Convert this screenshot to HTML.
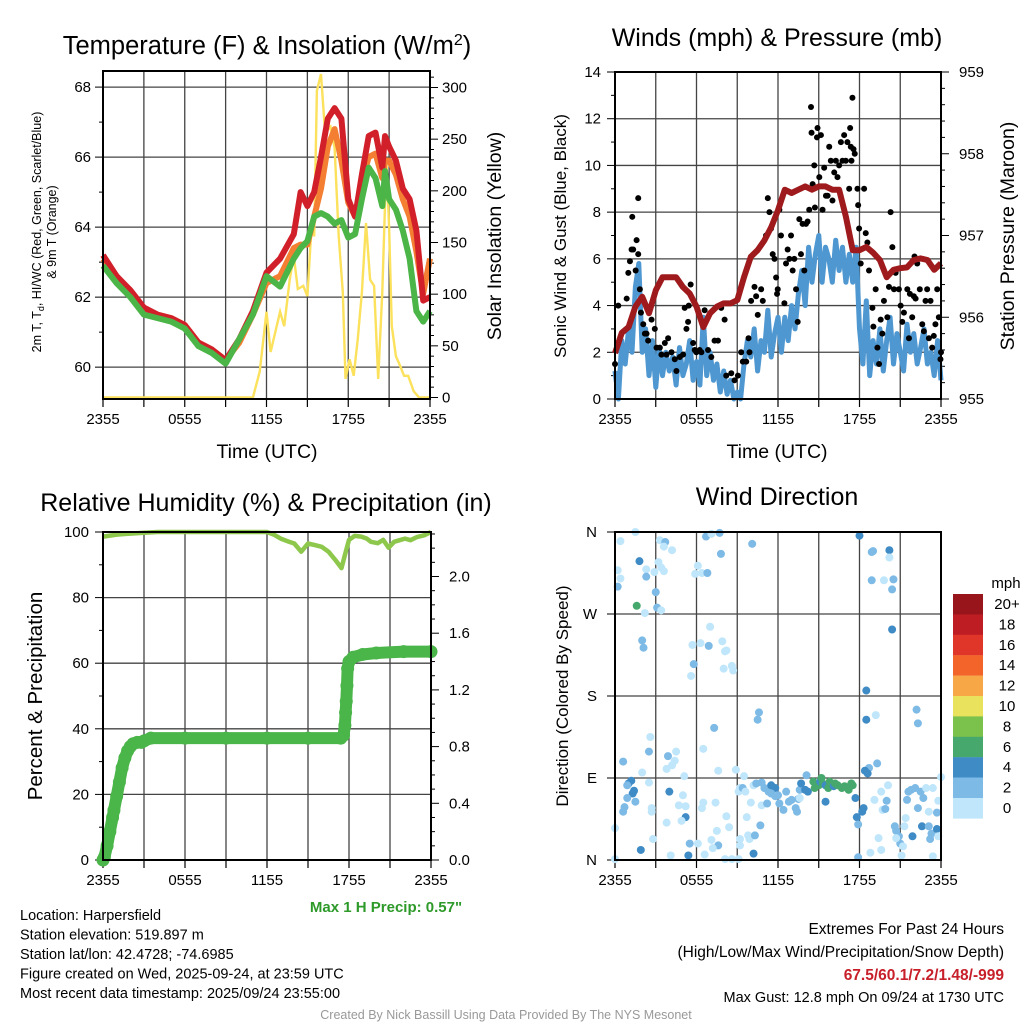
<!DOCTYPE html>
<html><head><meta charset="utf-8">
<style>
html,body{margin:0;padding:0;background:#fff;}
svg{display:block;font-family:"Liberation Sans",Arial,sans-serif;}
</style></head>
<body>
<svg id="c" width="1024" height="1024" viewBox="0 0 1024 1024" xmlns="http://www.w3.org/2000/svg"></svg>
<script>
// ---------- DATA ----------
const xTickLabels = ["2355","0555","1155","1755","2355"];
const tempT   = [0,1,2,3,4,5,6,7,8,9,10,11,12,13,14,14.5,15,15.5,16,16.5,17,17.5,18,18.5,19,19.5,20,20.5,20.7,21,21.5,22,22.5,23,23.5,24];
const tempRed = [63.2,62.6,62.2,61.7,61.5,61.4,61.2,60.7,60.5,60.2,60.8,61.6,62.7,63.1,63.8,65.0,64.6,65.0,66.0,67.1,67.4,67.1,64.8,64.3,65.5,66.6,66.7,65.7,66.6,66.3,65.9,65.1,64.8,63.9,61.9,62.0];
const tempOrg = [63.1,62.6,62.1,61.6,61.5,61.4,61.2,60.7,60.5,60.2,60.7,61.5,62.4,62.6,63.4,63.5,63.5,64.3,65.1,66.3,66.8,65.9,64.7,64.3,65.3,66.0,66.1,65.4,65.9,65.9,65.5,64.8,64.3,63.3,62.1,63.1];
const tempGrn = [62.9,62.4,62.0,61.5,61.4,61.3,61.1,60.6,60.4,60.1,60.8,61.5,62.6,62.3,63.1,63.4,63.6,64.3,64.4,64.3,64.1,64.2,63.7,63.8,64.8,65.7,65.4,64.6,65.6,64.8,64.5,63.9,63.1,61.6,61.3,61.6];
const solarT = [0,11,11.5,12,12.3,13,13.3,13.7,14,14.3,14.7,15,15.3,15.5,15.7,16,16.3,16.7,17,17.3,17.6,17.8,18.1,18.4,18.7,19,19.3,19.6,19.9,20.2,20.5,20.8,21,21.2,21.5,21.8,22.1,22.4,22.8,23.2,24];
const solarV = [0,0,25,83,44,83,69,114,137,105,108,98,165,156,297,313,256,262,242,156,102,18,37,21,57,102,169,114,108,18,102,230,165,69,40,31,21,21,6,0,0];
const windV = [1.2,0,2.5,1.5,3.0, 2.0,4.8,5.8,2.0, 3.0,1.0,2.5,0.5, 2.2,1.0,2.0,1.2, 1.8,0.6,2.2,1.0, 1.5,2.5,0.8,1.6, 0.6,3.5,1.0,2.0, 0.8,1.5,0.3,1.2, 0.2,0.8,0,0.3, 0,1.5,2.5,1.8, 3.0,1.2,2.5,2.0, 3.8,1.8,2.8,3.5, 2.0,3.5,2.5,4.0, 3.0,4.5,5.5,4.0, 6.5,5.0,6.2,7.0, 5.0,6.5,6.0,5.0, 6.8,5.5,6.5,5.0, 6.2,5.0,6.5,3.0, 1.5,4.2,1.0,2.5, 1.5,3.0,1.2,2.5, 3.5,1.5,2.8,2.0, 1.2,3.2,2.0,2.8, 1.5,2.2,3.0,1.5, 2.0,1.0,2.5,0.8];
const windStepHours = 0.25;
const gustT = [0,0.24,0.86,0.98,1.10,1.22,1.34,1.27,1.59,1.71,1.52,1.71,1.83,2.08,2.20,2.32,1.91,2.44,2.69,2.93,3.06,3.30,3.42,3.67,3.79,3.91,4.16,4.40,4.52,4.77,5.01,5.13,5.38,5.43,5.57,5.26,5.75,5.87,5.99,6.23,6.36,6.60,6.85,7.09,7.33,7.58,7.82,8.07,8.19,8.56,8.80,9.05,9.29,9.41,9.66,9.83,9.90,10.02,10.27,10.39,10.51,10.76,10.88,11.12,11.25,11.37,11.49,11.61,11.74,11.86,11.98,11.93,12.10,12.22,12.47,12.59,12.71,12.84,12.96,13.08,13.20,13.33,13.45,13.57,13.69,13.81,13.94,14.06,14.18,14.30,14.43,14.47,14.55,14.67,14.72,14.87,14.91,15.04,15.16,15.28,15.40,15.53,15.65,15.77,15.89,16.01,16.14,16.26,16.38,16.50,16.63,16.75,16.87,16.99,17.11,17.24,17.31,17.36,17.41,17.48,17.56,17.65,17.85,17.90,17.97,18.09,18.34,18.46,18.58,18.70,18.95,19.02,19.19,19.32,19.44,19.56,19.68,19.80,20.05,20.17,20.29,20.42,20.54,20.66,20.90,21.03,21.15,21.27,21.52,21.64,21.71,21.88,22.00,22.05,22.13,22.25,22.44,22.62,22.74,22.86,22.98,23.11,23.23,23.35,23.47,23.59,23.72,23.84,23.96,24.0];
const gustV = [1.5,4.0,4.3,5.4,5.9,6.4,6.4,7.8,6.8,8.6,5.5,6.2,4.7,3.2,2.8,2.8,3.7,2.5,3.4,3.0,2.2,2.2,1.9,2.4,1.9,2.6,2.0,1.7,1.2,1.8,1.9,3.9,3.3,4.0,4.9,3.0,2.4,2.1,2.0,2.1,2.0,3.8,2.1,1.8,2.5,2.5,3.9,3.4,1.0,1.1,0.8,1.0,2.0,1.6,1.6,2.6,2.0,4.2,4.8,4.4,3.6,4.7,4.2,7.0,8.6,8.0,7.3,6.2,6.0,5.2,4.7,4.5,8.1,7.0,4.1,5.8,6.4,6.0,7.0,5.5,6.0,4.7,3.3,7.7,6.2,7.5,5.5,7.5,7.6,8.1,12.5,11.4,9.2,10.0,8.2,11.2,11.6,9.5,11.3,8.1,9.9,8.7,8.7,10.8,10.2,8.5,9.7,10.2,9.5,10.0,11.0,10.2,11.3,10.2,11.0,9.0,11.6,10.8,10.2,12.9,10.7,10.5,9.0,8.3,7.3,5.8,9.0,7.1,6.7,5.5,3.9,3.1,4.7,2.2,1.5,3.4,2.8,4.2,3.5,4.8,8.0,6.5,4.7,5.4,4.7,4.0,3.3,3.7,4.7,2.6,4.5,3.5,4.4,6.1,4.3,5.8,4.7,3.2,2.9,4.2,4.7,2.6,4.2,2.2,2.7,3.2,4.7,3.5,1.7,2.0];
const presT = [0,0.5,1,1.5,2,2.5,3,3.5,4,4.5,5,5.5,6,6.5,7,7.5,8,8.5,9,9.5,10,10.5,11,11.5,12,12.5,13,13.5,14,14.5,15,15.5,16,16.5,17,17.5,18,18.5,19,19.5,20,20.5,21,21.5,22,22.5,23,23.5,24];
const presV = [955.56,955.81,955.88,956.13,956.25,956.05,956.33,956.49,956.49,956.49,956.37,956.29,956.13,955.88,956.05,956.13,956.17,956.17,956.21,956.49,956.74,956.82,956.94,957.10,957.31,957.56,957.52,957.56,957.60,957.56,957.60,957.60,957.56,957.56,957.23,956.82,956.82,956.86,956.79,956.70,956.49,956.58,956.60,956.61,956.70,956.72,956.70,956.58,956.66];
const rhT = [0,1,2,3,4,12,12.5,13,13.5,14,14.5,15,15.5,16,16.5,17,17.45,17.7,18,18.4,18.9,19.3,19.6,20.1,20.5,20.9,21.3,21.7,22.1,22.5,23,23.5,24];
const rhV = [98.6,99.2,99.5,99.8,100,100,99.2,98.0,97.2,96.5,94.0,96.5,96.0,95.5,94.0,91.5,89.0,93.0,97.6,98.8,98.6,98.0,97.0,96.6,97.6,95.2,97.0,97.5,98.0,97.5,98.5,99.0,100];
const precT = [0,0.1,0.3,0.5,0.7,0.8,1.0,1.2,1.4,1.6,1.8,2.0,2.2,2.5,2.8,3.0,3.5,6,9,12,15,17.4,17.6,17.7,17.75,17.8,17.85,17.9,18.0,18.3,19,20,22,24];
const precV = [0,0.02,0.1,0.2,0.3,0.35,0.45,0.55,0.65,0.72,0.77,0.80,0.82,0.83,0.83,0.84,0.86,0.86,0.86,0.86,0.86,0.86,0.88,0.95,1.04,1.12,1.23,1.35,1.40,1.43,1.45,1.46,1.47,1.47];
const dirObs = [[1.5,360,1],[0.4,350,1],[3.3,351,1],[3.7,349,3],[3.6,344,1],[4.2,340,1],[6.7,355,3],[7.1,358,1],[7.7,359,3],[7.8,336,3],[10.1,347,3],[18.0,356,5],[18.9,338,3],[19.0,339,3],[20.2,340,5],[20.2,332,1],[1.8,328,5],[3.2,327,1],[3.4,321,1],[3.6,317,1],[2.9,316,1],[2.3,319,1],[2.3,311,3],[0.2,318,1],[0.4,309,1],[0.2,300,3],[6.1,323,1],[5.9,314,1],[6.4,315,1],[6.8,315,3],[18.9,307,3],[19.8,307,1],[20.5,308,3],[20.4,297,3],[3.0,294,3],[3.1,277,3],[3.4,274,1],[1.6,279,7],[2.2,271,1],[20.4,253,5],[7.0,256,1],[2.0,241,3],[2.1,233,3],[5.7,236,1],[6.3,238,1],[6.9,235,3],[7.9,240,1],[8.1,229,1],[8.2,230,1],[5.8,215,3],[5.6,202,1],[8.0,210,1],[8.6,213,1],[8.7,208,1],[18.5,186,5],[10.6,162,3],[10.5,154,3],[22.2,165,3],[22.3,150,3],[19.2,159,1],[18.5,154,5],[7.3,145,3],[2.6,135,1],[2.5,119,3],[6.5,122,1],[4.5,119,1],[3.9,114,3],[4.4,109,1],[4.2,104,1],[3.8,100,1],[0.6,108,3],[2.0,96,1],[2.5,85,1],[5.1,92,1],[7.6,98,1],[8.9,99,1],[9.5,92,1],[19.3,106,3],[18.7,101,3],[18.4,98,5],[18.6,95,5],[24.0,91,1],[1.2,87,5],[1.0,84,5],[0.9,82,3],[1.4,76,5],[1.3,73,5],[0.9,68,3],[1.5,64,3],[0.7,58,3],[0.6,53,3],[4.0,75,5],[5.0,71,1],[4.7,60,1],[5.2,59,1],[6.5,63,1],[6.4,57,1],[7.4,63,1],[2.7,57,1],[2.7,53,1],[5.2,47,5],[4.9,43,1],[3.8,41,1],[0.0,35,1],[2.8,23,1],[1.9,11,5],[4.1,5,1],[5.5,18,3],[5.4,5,5],[6.1,18,1],[6.6,6,1],[7.1,22,1],[7.5,32,1],[7.6,16,3],[7.2,13,1],[8.2,48,1],[8.4,36,1],[8.1,1,1],[8.6,1,1],[9.1,1,1],[9.2,23,1],[9.2,16,1],[9.8,27,1],[9.9,23,1],[10.2,7,5],[10.3,27,3],[9.7,47,1],[10.7,38,3],[9.1,75,1],[9.2,79,1],[9.4,79,3],[9.6,75,1],[10.0,63,1],[10.2,82,1],[10.4,84,3],[10.8,85,3],[11.0,79,3],[11.3,75,3],[11.5,82,5],[11.8,79,5],[10.8,60,1],[11.2,62,3],[11.5,73,3],[11.8,70,3],[12.0,71,3],[12.1,62,3],[12.4,55,3],[12.6,75,3],[12.8,64,3],[13.0,66,3],[13.3,57,3],[13.4,53,3],[13.5,67,3],[13.6,68,1],[13.6,77,3],[13.7,84,5],[14.0,77,5],[14.1,93,3],[14.2,75,5],[14.6,86,7],[14.7,79,7],[15.0,82,7],[15.1,86,5],[15.2,90,7],[15.3,84,7],[15.5,82,5],[15.5,64,5],[15.7,79,7],[15.8,86,7],[16.1,81,5],[16.2,84,7],[16.4,82,7],[16.7,79,7],[16.9,81,7],[17.2,77,7],[17.4,84,7],[17.5,82,7],[17.7,68,5],[17.8,47,5],[18.3,57,5],[18.2,53,5],[17.9,39,3],[17.9,3,3],[18.8,8,1],[19.1,66,1],[19.6,75,1],[19.7,55,1],[20.0,65,3],[19.9,56,3],[20.1,82,1],[20.6,37,3],[20.7,32,3],[20.9,26,3],[21.0,18,3],[20.7,24,1],[19.4,24,1],[19.6,11,1],[21.1,5,1],[21.4,46,1],[21.3,37,1],[21.6,75,3],[21.5,66,3],[21.8,77,3],[22.1,79,3],[22.5,75,3],[22.7,68,3],[22.3,57,3],[23.1,53,1],[22.9,79,1],[23.4,79,1],[23.8,65,1],[23.7,52,3],[22.6,37,5],[23.1,37,3],[23.3,29,3],[23.2,23,3],[23.7,34,5],[23.8,26,1],[21.9,26,5],[21.2,15,1],[23.4,4,1],[0.0,1,1]];
const speedLabels = ["20+","18","16","14","12","10","8","6","4","2","0"];
const speedColors = ["#97151b","#bf1d24","#e0362a","#f2642a","#f8a746","#e8e25c","#7ac24c","#47a86e","#3f8bc6","#7dbae6","#bfe6fa"];

// ---------- HELPERS ----------
const NS="http://www.w3.org/2000/svg";
const svg=document.getElementById('c');
function mk(tag,attrs,parent){const e=document.createElementNS(NS,tag);for(const k in attrs)e.setAttribute(k,attrs[k]);(parent||svg).appendChild(e);return e;}
function txt(s,x,y,size,opts,parent){opts=opts||{};const e=mk('text',{x:x,y:y,'font-size':size,'text-anchor':opts.anchor||'middle',fill:opts.fill||'#000','font-weight':opts.bold?'bold':'normal'},parent);if(opts.rot)e.setAttribute('transform','rotate('+opts.rot+' '+x+' '+y+')');e.textContent=s;return e;}
function lin(d0,d1,r0,r1){return v=>r0+(v-d0)/(d1-d0)*(r1-r0);}
function grp(name){const g=mk('g',{});return g;}
function pathD(xs,ys,fx,fy){return xs.map((t,i)=>(i?'L':'M')+fx(t).toFixed(1)+','+fy(ys[i]).toFixed(1)).join('');}
const TF=15;
function panelFrame(name,x0,x1,y0,y1){
  const fx=lin(0,24,x0,x1);
  const gg=grp(name+'-grid');
  for(let h=3;h<24;h+=3){const x=fx(h);mk('line',{x1:x,y1:y0,x2:x,y2:y1,stroke:'#444','stroke-width':1.3},gg);}
  const xa=grp(name+'-x-axis');
  for(let h=0;h<=24;h+=3){const x=fx(h);mk('line',{x1:x,y1:y1,x2:x,y2:y1+8,stroke:'#000','stroke-width':1.2},xa);}
  xTickLabels.forEach((l,i)=>{txt(l,fx(i*6),y1+25,TF,{},xa);});
  return fx;
}
function hgrid(g,x0,x1,y){mk('line',{x1:x0,y1:y,x2:x1,y2:y,stroke:'#444','stroke-width':1.3},g);}
function box(name,x0,x1,y0,y1){const r=mk('rect',{x:x0,y:y0,width:x1-x0,height:y1-y0,fill:'none',stroke:'#000','stroke-width':2});}

// ---------- PANEL 1 ----------
(function(){
  const x0=103,x1=430,y0=71,y1=399;
  const fx=panelFrame('temp',x0,x1,y0,y1);
  const fy=lin(59.09,68.46,y1,y0);
  const fs=lin(0,300,y1-1.5,87.5);
  const g=grp('temp-y-grid');
  [60,62,64,66,68].forEach(v=>hgrid(g,x0,x1,fy(v)));
  const la=grp('temp-left-axis');
  [60,62,64,66,68].forEach(v=>{mk('line',{x1:x0-8,y1:fy(v),x2:x0,y2:fy(v),stroke:'#000'},la);txt(String(v),x0-12,fy(v)+5,TF,{anchor:'end'},la);});
  [61,63,65,67].forEach(v=>mk('line',{x1:x0-4,y1:fy(v),x2:x0,y2:fy(v),stroke:'#000'},la));
  const ra=grp('solar-right-axis');
  for(let v=0;v<=310;v+=10){const y=fs(v);if(y<y0)break;mk('line',{x1:x1,y1:y,x2:x1+(v%50==0?8:4),y2:y,stroke:'#000'},ra);}
  [0,50,100,150,200,250,300].forEach(v=>txt(String(v),x1+12,fs(v)+5,TF,{anchor:'start'},ra));
  const cp=mk('clipPath',{id:'cp1'});mk('rect',{x:x0,y:y0,width:x1-x0,height:y1-y0+4},cp);
  const s=mk('path',{d:pathD(solarT,solarV,fx,fs),fill:'none',stroke:'#fbe15c','stroke-width':2.4,'clip-path':'url(#cp1)'});
  
  const o=mk('path',{d:pathD(tempT,tempOrg,fx,fy),fill:'none',stroke:'#f47e32','stroke-width':6,'stroke-linejoin':'round'});
  
  const r=mk('path',{d:pathD(tempT,tempRed,fx,fy),fill:'none',stroke:'#d2202a','stroke-width':6,'stroke-linejoin':'round'});
  
  const gr=mk('path',{d:pathD(tempT,tempGrn,fx,fy),fill:'none',stroke:'#4bb548','stroke-width':6,'stroke-linejoin':'round'});
  
  box('temp',x0,x1,y0,y1);
  const t=mk('text',{x:267,y:54,'font-size':25.5,'text-anchor':'middle'});
  t.innerHTML='Temperature (F) &amp; Insolation (W/m<tspan dy="-9" font-size="16">2</tspan><tspan dy="9">)</tspan>';
  txt('Time (UTC)',267,458,19.5);
  const yl=mk('text',{x:0,y:0,'font-size':12.5,'text-anchor':'middle',transform:'translate(41,232) rotate(-90)'});
  
  yl.innerHTML='2m T, T<tspan dy="3" font-size="9">d</tspan><tspan dy="-3">, HI/WC (Red, Green, Scarlet/Blue)</tspan>';
  const yl2=txt('& 9m T (Orange)',0,0,12.5);yl2.setAttribute('transform','translate(56,232) rotate(-90)');
  txt('Solar Insolation (Yellow)',501,236,19.5,{rot:-90});
})();

// ---------- PANEL 2 ----------
(function(){
  const x0=615,x1=941,y0=72,y1=399;
  const fx=panelFrame('wind',x0,x1,y0,y1);
  const fy=lin(0,14,y1,y0);
  const fp=lin(955,959,y1,y0);
  const g=grp('wind-y-grid');
  for(let v=2;v<14;v+=2)hgrid(g,x0,x1,fy(v));
  const la=grp('wind-left-axis');
  for(let v=0;v<=14;v+=2){mk('line',{x1:x0-8,y1:fy(v),x2:x0,y2:fy(v),stroke:'#000'},la);txt(String(v),x0-14,fy(v)+5,TF,{anchor:'end'},la);}
  for(let v=1;v<14;v+=2)mk('line',{x1:x0-4,y1:fy(v),x2:x0,y2:fy(v),stroke:'#000'},la);
  const ra=grp('pressure-right-axis');
  for(let v=955;v<=959.001;v+=0.2){const y=fp(v);const major=Math.abs(v-Math.round(v))<0.01;mk('line',{x1:x1,y1:y,x2:x1+(major?8:4),y2:y,stroke:'#000'},ra);}
  [955,956,957,958,959].forEach(v=>txt(String(v),x1+18,fp(v)+5,TF,{anchor:'start'},ra));
  const wx=windV.map((v,i)=>i*windStepHours);
  const b=mk('path',{d:pathD(wx,windV,fx,fy),fill:'none',stroke:'#4e97d1','stroke-width':5,'stroke-linejoin':'round'});
  
  const gd=grp('gust-dots');
  gustT.forEach((t,i)=>{const c=mk('circle',{cx:fx(t),cy:fy(gustV[i]),r:3,fill:'#000'},gd);
    
    });
  const p=mk('path',{d:pathD(presT,presV,fx,fp),fill:'none',stroke:'#9e1a1d','stroke-width':6,'stroke-linejoin':'round'});
  
  box('wind',x0,x1,y0,y1);
  txt('Winds (mph) & Pressure (mb)',777,46,25);
  txt('Time (UTC)',777,458,19.5);
  txt('Sonic Wind & Gust (Blue, Black)',566,236,17,{rot:-90});
  txt('Station Pressure (Maroon)',1014,236,19.5,{rot:-90});
})();

// ---------- PANEL 3 ----------
(function(){
  const x0=103,x1=431,y0=532,y1=860;
  const fx=panelFrame('rh',x0,x1,y0,y1);
  const fy=lin(0,100,y1,y0);
  const fp=lin(0,2.4,y1,y1-6*56.7);
  const g=grp('rh-y-grid');
  for(let v=20;v<=100;v+=20)hgrid(g,x0,x1,fy(v));
  const la=grp('rh-left-axis');
  for(let v=0;v<=100;v+=20){mk('line',{x1:x0-8,y1:fy(v),x2:x0,y2:fy(v),stroke:'#000'},la);txt(String(v),x0-14,fy(v)+5,TF,{anchor:'end'},la);}
  for(let v=10;v<100;v+=20)mk('line',{x1:x0-4,y1:fy(v),x2:x0,y2:fy(v),stroke:'#000'},la);
  const ra=grp('precip-right-axis');
  for(let v=0;v<=2.31;v+=0.1){const y=fp(v);const k=Math.round(v*10);mk('line',{x1:x1,y1:y,x2:x1+(k%4==0?8:4),y2:y,stroke:'#000'},ra);}
  ["0.0","0.4","0.8","1.2","1.6","2.0"].forEach(l=>txt(l,x1+18,fp(parseFloat(l))+5,TF,{anchor:'start'},ra));
  const rl=mk('path',{d:pathD(rhT,rhV,fx,fy),fill:'none',stroke:'#8dc84c','stroke-width':4.5,'stroke-linejoin':'round'});
  
  const pl=mk('path',{d:pathD(precT,precV,fx,fp),fill:'none',stroke:'#4ab548','stroke-width':12,'stroke-linejoin':'round','stroke-linecap':'round'});
  
  const pg=grp('precip-dots');
  precT.forEach((t,i)=>{const c=mk('circle',{cx:fx(t),cy:fp(precV[i]),r:6.5,fill:'#4ab548'},pg);
    
    });
  box('rh',x0,x1,y0,y1);
  txt('Relative Humidity (%) & Precipitation (in)',266,511,25);
  txt('Percent & Precipitation',42,696,20.5,{rot:-90});
  txt('Max 1 H Precip: 0.57"',386,912,15,{fill:'#2e9a2a',bold:true});
})();

// ---------- PANEL 4 ----------
(function(){
  const x0=615,x1=941,y0=532,y1=860;
  const fx=panelFrame('dir',x0,x1,y0,y1);
  const fy=lin(0,360,y1,y0);
  const g=grp('dir-y-grid');
  [90,180,270].forEach(v=>hgrid(g,x0,x1,fy(v)));
  const la=grp('dir-left-axis');
  ["N","E","S","W","N"].forEach((l,i)=>{const y=fy(i*90);mk('line',{x1:x0-8,y1:y,x2:x0,y2:y,stroke:'#000'},la);txt(l,x0-18,y+5,TF,{anchor:'end'},la);});
  const dg=grp('direction-points');
  function col(s){const idx=Math.min(10,Math.floor(s/2));return speedColors[10-idx];}
  dirObs.forEach(d=>{const c=mk('circle',{cx:fx(d[0]),cy:fy(d[1]),r:4,fill:col(d[2])},dg);
    
    });
  box('dir',x0,x1,y0,y1);
  txt('Wind Direction',777,505,25);
  txt('Direction (Colored By Speed)',568,696,17,{rot:-90});
  const lg=grp('speed-colorbar');
  txt('mph',1006,588,15,{},lg);
  speedLabels.forEach((l,i)=>{const y=594+i*20.4;
    const r=mk('rect',{x:953,y:y,width:30,height:20.6,fill:speedColors[i]},lg);
    
    
    txt(l,1007,y+15,15,{},lg);});
})();

// ---------- FOOTER ----------
const info=["Location: Harpersfield","Station elevation: 519.897 m","Station lat/lon: 42.4728; -74.6985","Figure created on Wed, 2025-09-24, at 23:59 UTC","Most recent data timestamp: 2025/09/24 23:55:00"];
const ig=grp('station-info');
info.forEach((s,i)=>txt(s,20,920+i*19.5,14.5,{anchor:'start'},ig));
const eg=grp('extremes-info');
txt('Extremes For Past 24 Hours',1004,934,15.5,{anchor:'end'},eg);
txt('(High/Low/Max Wind/Precipitation/Snow Depth)',1004,957,15.5,{anchor:'end'},eg);
txt('67.5/60.1/7.2/1.48/-999',1004,980,15.5,{anchor:'end',fill:'#c8202a',bold:true},eg);
txt('Max Gust: 12.8 mph On 09/24 at 1730 UTC',1004,1002,14.5,{anchor:'end'},eg);
txt('Created By Nick Bassill Using Data Provided By The NYS Mesonet',506,1019,12.5,{fill:'#999'});
</script>
</body></html>
